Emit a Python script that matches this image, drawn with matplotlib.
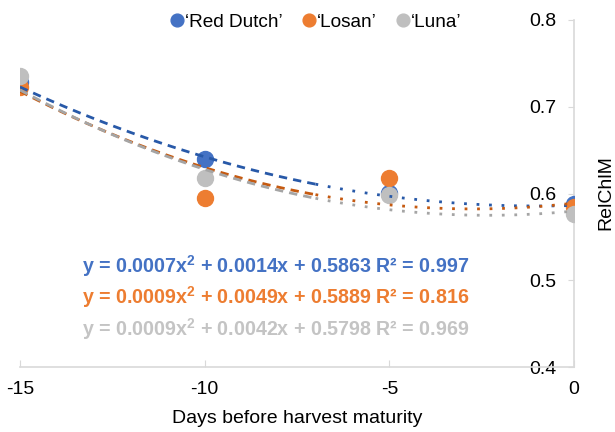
import numpy as np
import matplotlib.pyplot as plt

plt.rcParams['font.family'] = ['Liberation Sans', 'DejaVu Sans']
plt.rcParams['axes.unicode_minus'] = False
plt.rcParams['mathtext.fontset'] = 'custom'
plt.rcParams['mathtext.bf'] = 'Liberation Sans:bold'
plt.rcParams['mathtext.rm'] = 'Liberation Sans'

days = [-15, -10, -5, 0]
red_dutch = [0.728, 0.640, 0.601, 0.588]
losan = [0.723, 0.595, 0.618, 0.584]
luna = [0.735, 0.618, 0.598, 0.576]

names = ["\u2018Red Dutch\u2019", "\u2018Losan\u2019", "\u2018Luna\u2019"]
# trendline coefficients (a, b, c) and R2 as printed on the chart
coefs = [(0.0007, 0.0014, 0.5863), (0.0009, 0.0049, 0.5889), (0.0009, 0.0042, 0.5798)]
r2 = ["0.997", "0.816", "0.969"]

point_cols = ["#4472C4", "#ED7D31", "#BFBFBF"]
line_cols = ["#2859A8", "#C55A11", "#A5A5A5"]
text_cols = ["#4472C4", "#ED7D31", "#C4C4C4"]

fig = plt.figure(figsize=(6.15, 4.32), dpi=100)
ax = fig.add_axes([20 / 615, 1 - 367 / 432, 554 / 615, 347 / 432])

series = [red_dutch, losan, luna]
for vals, col, name in zip(series, point_cols, names):
    ax.plot(days, vals, 'o', color=col, markersize=11.5, label=name, zorder=3)

xs1 = np.linspace(-15, -7, 100)
xs2 = np.linspace(-7, 0, 100)
for (a, b, c), col in zip(coefs, line_cols):
    ax.plot(xs1, a * xs1**2 + b * xs1 + c, color=col, lw=2, dashes=(3, 2.2), zorder=4)
    ax.plot(xs2, a * xs2**2 + b * xs2 + c, color=col, lw=2, dashes=(1, 3.5), zorder=4)

ax.set_xlim(-15, 0)
ax.set_ylim(0.4, 0.8)
ax.set_xticks([-15, -10, -5, 0])
ax.set_yticks([0.4, 0.5, 0.6, 0.7, 0.8])
ax.set_yticklabels(["0.4", "0.5", "0.6", "0.7", "0.8"])

ax.spines['top'].set_visible(False)
ax.spines['right'].set_visible(False)
ax.spines['left'].set_position(('data', 0))
ax.spines['left'].set_color('#D9D9D9')
ax.spines['bottom'].set_color('#D9D9D9')
ax.spines['left'].set_linewidth(1.2)
ax.spines['bottom'].set_linewidth(1.2)
ax.tick_params(axis='y', direction='out', length=4.5, color='#D9D9D9', labelsize=14, pad=8)
ax.tick_params(axis='x', direction='in', length=5, color='#D9D9D9', labelsize=14, pad=10)
ax.patch.set_visible(False)

ax.set_xlabel("Days before harvest maturity", fontsize=14, labelpad=9)
fig.text(614 / 615, 1 - 193 / 432, "RelChlM", rotation=90, ha='right', va='center', fontsize=14)

for i, ((a, b, c), col) in enumerate(zip(coefs, text_cols)):
    eq = f"y = {a:.4f}x$^\\mathbf{{2}}$ + {b:.4f}x + {c:.4f} R\u00b2 = {r2[i]}"
    fig.text(82 / 615, 1 - (266 + 31.5 * i) / 432, eq, color=col, fontsize=14.1,
             fontweight='bold', ha='left', va='center')

leg = ax.legend(loc='center', bbox_to_anchor=(316 / 615, 1 - 22 / 432), bbox_transform=fig.transFigure,
                ncol=3, frameon=False, fontsize=13.7, handlelength=0.7, handletextpad=0.1,
                columnspacing=1.0, markerscale=0.8)

fig.savefig("out.png", dpi=100)
